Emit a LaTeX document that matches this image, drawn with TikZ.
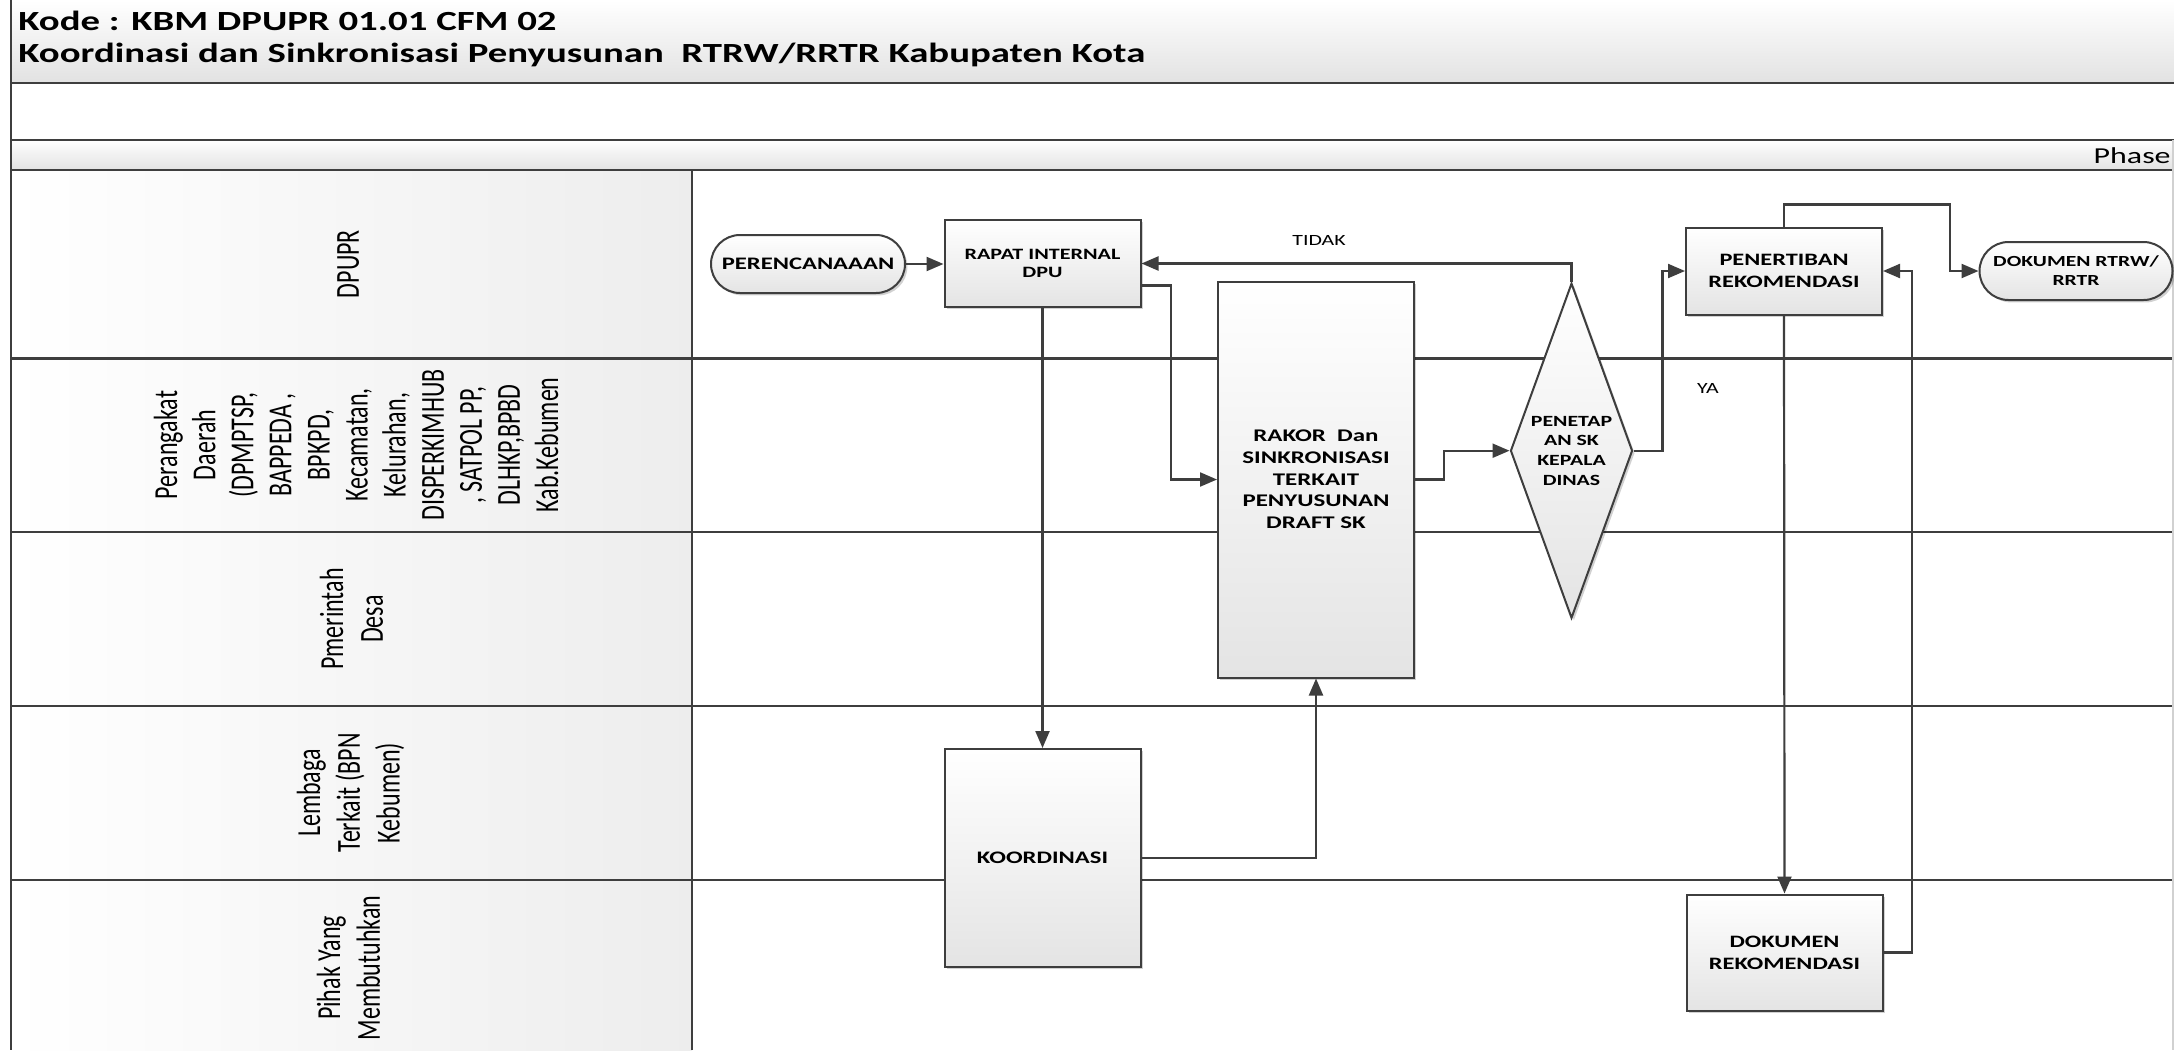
\documentclass[tikz,border=0pt]{standalone}
\usepackage{fontspec}
\setmainfont{Carlito}
\newfontfamily\cf[FakeStretch=1.4]{Carlito}
\usetikzlibrary{shapes.geometric,shapes.misc,shadows,arrows.meta}
\definecolor{lc}{HTML}{3E3E3E}
\definecolor{fillb}{HTML}{E4E4E4}
\definecolor{bandb}{HTML}{E2E2E2}
\newcommand{\lanelab}[2][14.2]{\scalebox{1.4}[1]{\rotatebox{90}{\fontsize{12}{#1}\selectfont\begin{tabular}{@{}c@{}}#2\end{tabular}}}}
\begin{document}
\begin{tikzpicture}[x=0.5pt,y=-0.5pt,
  ln/.style={draw=lc,line width=1.15pt},
  box/.style={draw=lc,line width=1pt,top color=white,bottom color=fillb,
    drop shadow={shadow xshift=1.2pt,shadow yshift=-1.2pt,fill=black,opacity=0.18},
    inner sep=0pt,align=center,minimum width=98pt},
  term/.style={box,rounded rectangle,minimum height=29pt},
  arr/.style={draw=lc,line width=1.1pt,-{Triangle[length=8.5pt,width=7pt]}},
  lab/.style={font=\cf\fontsize{7.8}{9}\selectfont,inner sep=0pt}
]
\useasboundingbox (0,0) rectangle (2174,1050);
\fill[white] (0,0) rectangle (2174,1050);
% bands
\shade[top color=white,bottom color=bandb] (11,0) rectangle (2174,83);
\shade[top color=white,bottom color=bandb] (11,140) rectangle (2174,170);
\shade[left color=white,right color=black!7] (11,170) rectangle (692,1050);
\draw[ln] (11,83) -- (2174,83);
\draw[ln] (11,140) -- (2174,140);
\draw[ln] (11,170) -- (2174,170);
\draw[ln] (11,358.5) -- (2174,358.5);
\draw[ln] (11,532) -- (2174,532);
\draw[ln] (11,706) -- (2174,706);
\draw[ln] (11,880) -- (2174,880);
\draw[ln] (692,170) -- (692,1050);
\draw[ln] (11,0) -- (11,1050);
\draw[black!18,line width=1pt] (2173,140) -- (2173,1050);

% title
\node[anchor=base west,inner sep=0pt,font=\cf\bfseries\fontsize{13.85}{16}\selectfont] (t1) at (18,30) {Kode : KBM DPUPR 01.01 CFM 02};
\node[anchor=base west,inner sep=0pt,font=\cf\bfseries\fontsize{13.85}{16}\selectfont] (t2) at (18,62) {Koordinasi dan Sinkronisasi Penyusunan\ \ RTRW/RRTR Kabupaten Kota};
\node[anchor=base east,inner sep=0pt,font=\cf\fontsize{11.4}{13}\selectfont] (phase) at (2171,163) {Phase};

% lane labels
\node[inner sep=0pt] (l1) at (351,264) {\lanelab{DPUPR}};
\node[inner sep=0pt] (l2) at (360,445) {\lanelab[13.6]{Perangakat\\Daerah\\(DPMPTSP,\\BAPPEDA ,\\BPKPD,\\Kecamatan,\\Kelurahan,\\DISPERKIMHUB\\, SATPOL PP,\\DLHKP,BPBD\\Kab.Kebumen}};
\node[inner sep=0pt] (l3) at (355,619) {\lanelab{Pmerintah\\Desa}};
\node[inner sep=0pt] (l4) at (352,793) {\lanelab{Lembaga\\Terkait (BPN\\Kebumen)}};
\node[inner sep=0pt] (l5) at (352,968) {\lanelab{Pihak Yang\\Membutuhkan}};

% nodes
\node[term,minimum width=97pt,font=\cf\bfseries\fontsize{8.8}{10}\selectfont] (perenc) at (808,264) {PERENCANAAAN};
\node[box,minimum height=43.5pt,font=\cf\bfseries\fontsize{7.9}{9.15}\selectfont] (rapat) at (1042.5,263.5) {RAPAT INTERNAL\\DPU};
\node[box,minimum height=198pt,font=\cf\bfseries\fontsize{8.9}{10.85}\selectfont] (rakor) at (1316,479.5) {RAKOR\ \ Dan\\SINKRONISASI\\TERKAIT\\PENYUSUNAN\\DRAFT SK};
\node[box,diamond,shape aspect=0.36,minimum width=61pt,minimum height=167.5pt,font=\cf\bfseries\fontsize{7.8}{9.8}\selectfont] (penet) at (1571.5,450.7) {PENETAP\\AN SK\\KEPALA\\DINAS};
\node[box,minimum height=43.5pt,font=\cf\bfseries\fontsize{8.7}{11.35}\selectfont] (pener) at (1784,271) {PENERTIBAN\\REKOMENDASI};
\node[term,minimum width=96.5pt,font=\cf\bfseries\fontsize{7.7}{9.5}\selectfont] (dokrtrw) at (2076,271) {DOKUMEN RTRW/\\RRTR};
\node[box,minimum height=109pt,font=\cf\bfseries\fontsize{8.8}{10}\selectfont] (koord) at (1042.5,858) {KOORDINASI};
\node[box,minimum height=58pt,font=\cf\bfseries\fontsize{8.7}{10.85}\selectfont] (dokrek) at (1784.5,952.5) {DOKUMEN\\REKOMENDASI};

% labels
\node[lab] (tidak) at (1319,240) {TIDAK};
\node[lab] (ya) at (1708,388) {YA};

% connectors
\draw[arr] (perenc.east) -- (perenc.east -| rapat.west);
\draw[arr] (rapat.south) -- (koord.north);
\draw[arr] ([yshift=-11pt]rapat.east) -- ++(14.75pt,0) |- (rakor.west);
\draw[arr] (koord.east) -| (rakor.south);
\draw[arr] (rakor.east) -- ++(14.5pt,0) |- (penet.west);
\draw[arr] (penet.north) |- (rapat.east);
\draw[arr] (penet.east) -- ++(14.5pt,0) |- (pener.west);
\draw[arr] (pener.north) -- ++(0,11pt) -| ([xshift=-14.25pt]dokrtrw.west) -- (dokrtrw.west);
\draw[arr] (pener.south) -- (dokrek.north);
\draw[arr] (dokrek.east) -- ++(14.25pt,0) |- (pener.east);
\end{tikzpicture}
\end{document}
